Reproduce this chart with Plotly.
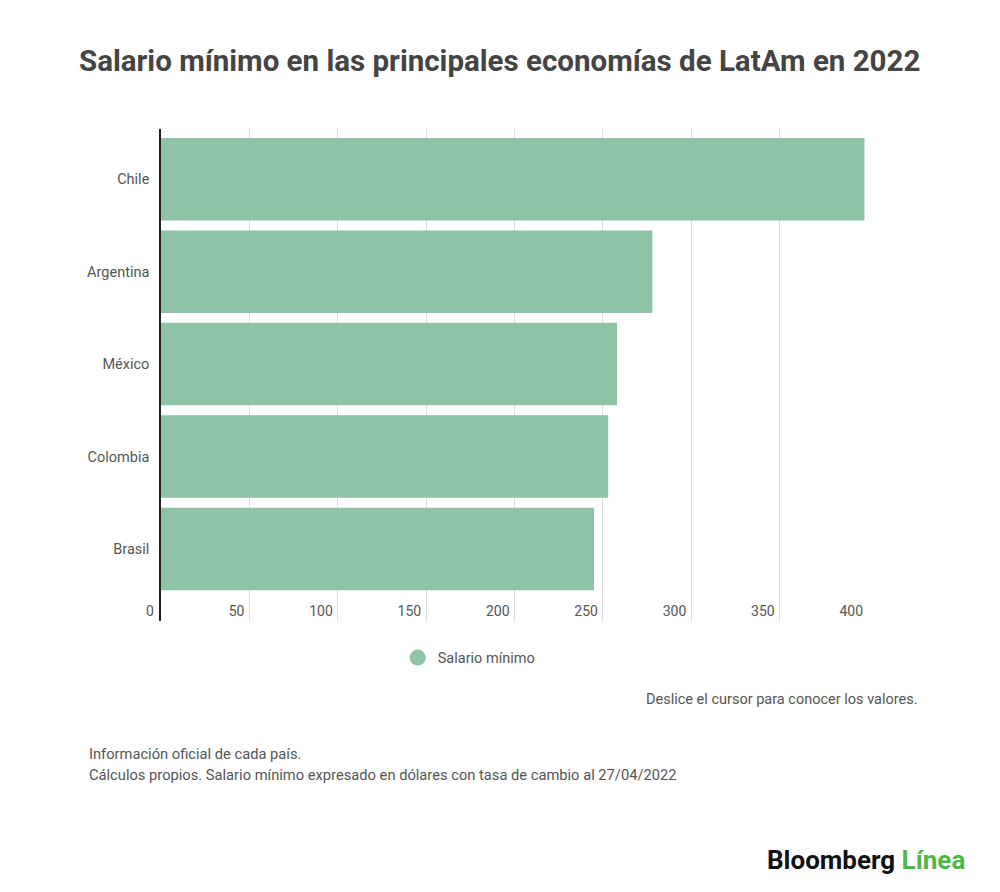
# Minimum wage in the main LatAm economies, 2022 (horizontal bar chart)

import plotly.graph_objects as go

# Data (USD per month)
countries = ["Chile", "Argentina", "México", "Colombia", "Brasil"]
minWage = [398, 278, 258, 253, 245]
xTicks = [0, 50, 100, 150, 200, 250, 300, 350, 400]

seriesName = "Salario mínimo"
barColor = "#8fc3a6"
textColor = "#555555"
fontFamily = "Roboto, Arial, sans-serif"


def makeChart():
    """
    Build the bar chart with title, notes and logo
    """
    fig = go.Figure()

    fig.add_trace(go.Bar(
        y=countries,
        x=minWage,
        orientation="h",
        marker=dict(color=barColor, line=dict(width=0)),
        showlegend=False,
        hovertemplate="%{y}: %{x}<extra></extra>"
    ))

    # Dummy trace only for a round legend marker
    fig.add_trace(go.Scatter(
        x=[None], y=[None],
        mode="markers",
        marker=dict(symbol="circle", size=18, color=barColor),
        name=seriesName
    ))

    # Note: the page has a body margin, margins below compensate for it
    fig.update_layout(
        width=1000,
        height=892,
        paper_bgcolor="white",
        plot_bgcolor="white",
        font=dict(family=fontFamily, color=textColor, size=14),
        margin=dict(l=153, r=140, t=121, b=279),
        bargap=0.107,
        showlegend=True,
        legend=dict(
            orientation="h",
            x=0.436, xanchor="center",
            y=-0.042, yanchor="top",
            font=dict(size=14.5, color=textColor),
            itemwidth=30
        ),
        xaxis=dict(
            range=[0, 400],
            tickvals=xTicks,
            showgrid=True,
            gridcolor="#dddddd",
            gridwidth=1,
            zeroline=False,
            showline=False,
            ticklabelposition="inside left",
            ticklabelstandoff=-4,
            ticklabelshift=-5,
            tickfont=dict(size=14, color=textColor),
            fixedrange=True
        ),
        yaxis=dict(
            categoryorder="array",
            categoryarray=countries,
            range=[4.78, -0.544],
            showgrid=False,
            zeroline=False,
            showline=True,
            linecolor="#222222",
            linewidth=1.5,
            ticks="",
            ticklabelstandoff=7,
            tickfont=dict(size=14.5, color=textColor),
            fixedrange=True
        )
    )

    # The "0" label sits left of the axis line, outside the plot area
    fig.add_annotation(
        text=str(xTicks[0]),
        xref="x", yref="paper",
        x=xTicks[0], xshift=-5, y=0, yshift=10,
        xanchor="right", yanchor="middle",
        showarrow=False,
        font=dict(size=14, color=textColor)
    )

    # Title
    fig.add_annotation(
        text="<b>Salario mínimo en las principales economías de LatAm en 2022</b>",
        xref="paper", yref="paper",
        x=0.5, xshift=-15, y=1.0, yshift=68,
        xanchor="center", yanchor="middle",
        showarrow=False,
        font=dict(size=29.5, color="#444444")
    )
    # Hint
    fig.add_annotation(
        text="Deslice el cursor para conocer los valores.",
        xref="paper", yref="paper",
        x=1.0, xshift=52, y=0, yshift=-78,
        xanchor="right", yanchor="middle",
        showarrow=False,
        font=dict(size=14.5, color=textColor)
    )
    # Sources, two lines
    footNotes = [
        "Información oficial de cada país.",
        "Cálculos propios. Salario mínimo expresado en dólares con tasa de cambio al 27/04/2022"
    ]
    for idx, note in enumerate(footNotes):
        fig.add_annotation(
            text=note,
            xref="paper", yref="paper",
            x=0, xshift=-74, y=0, yshift=-133 - 21 * idx,
            xanchor="left", yanchor="middle",
            align="left",
            showarrow=False,
            font=dict(size=14.7, color=textColor)
        )
    # Logo
    fig.add_annotation(
        text="<b>Bloomberg</b> <b><span style='color:#4db848'>Línea</span></b>",
        xref="paper", yref="paper",
        x=1.0, xshift=99, y=0, yshift=-239,
        xanchor="right", yanchor="middle",
        showarrow=False,
        font=dict(size=26, color="#111111")
    )

    fig.write_html("out.html")


def main():
    makeChart()


if __name__ == "__main__":
    main()
